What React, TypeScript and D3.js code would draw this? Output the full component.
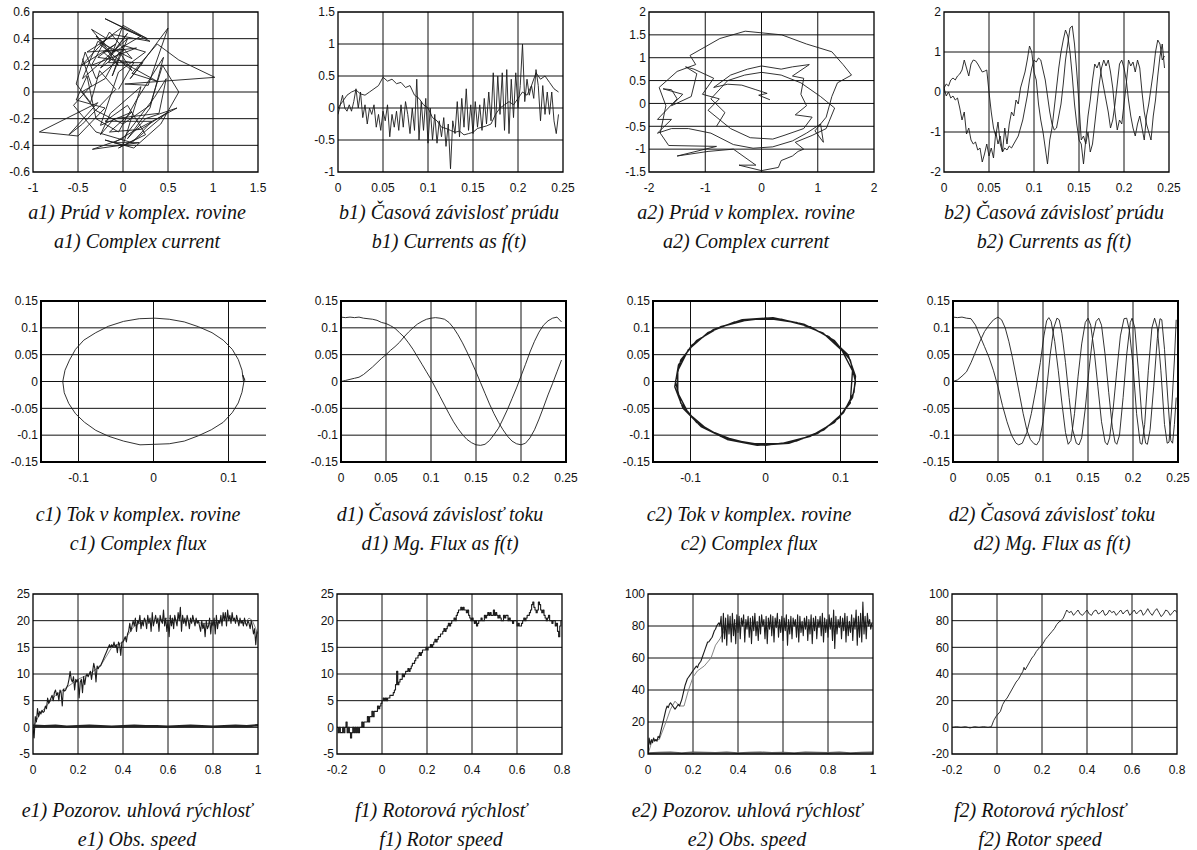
import React from "react";
import * as d3 from "d3";

type Pt = [number, number];

// ---------------- DATA ----------------
// a1) complex current trajectory (Re, Im)
const A1_CURRENT: Pt[] = [
  [-0.05,0.02],[0.12,0.22],[-0.28,0.26],[-0.08,0.36],[-0.46,0.2],[-0.18,0.4],[-0.35,0.47],[-0.12,0.28],
  [0.05,0.44],[-0.25,0.18],[0.02,0.32],[-0.4,0.3],[-0.1,0.43],[0.3,0.38],[-0.2,0.55],[0.27,0.4],
  [0.0,0.5],[-0.16,0.22],[0.22,0.22],[0.08,0.1],[0.5,0.48],[0.28,0.05],[0.02,0.06],[1.02,0.11],
  [0.62,0.24],[0.38,0.36],[0.1,0.14],[0.38,0.08],[-0.05,0.24],[-0.3,0.1],[-0.42,0.3],[-0.52,0.06],
  [-0.36,-0.08],[-0.26,0.16],[-0.08,0.02],[-0.45,-0.24],[-0.6,-0.32],[-0.28,-0.08],[-0.93,-0.3],[-0.5,-0.33],
  [-0.2,-0.12],[-0.52,-0.06],[-0.4,0.12],[-0.3,-0.2],[-0.05,-0.3],[0.15,-0.06],[0.45,0.26],[0.3,-0.12],
  [0.05,-0.35],[0.25,-0.2],[0.6,-0.12],[0.1,-0.3],[-0.1,-0.38],[0.18,-0.38],[-0.34,-0.43],[0.0,-0.35],
  [0.35,-0.04],[0.48,0.1],[0.4,-0.16],[-0.1,-0.2],[-0.25,-0.32],[-0.14,-0.16],[0.2,0.04],[0.0,-0.4],
  [-0.2,-0.36],[0.12,-0.42],[0.42,-0.24],[0.62,0.0],[0.44,0.2],[0.3,-0.1],[0.0,-0.24],[-0.3,-0.14],
  [-0.46,0.0],[-0.2,0.1],[-0.04,0.3],[0.1,0.16],[-0.26,0.36],[-0.02,0.48],[0.2,0.42],[-0.1,0.3],
  [-0.3,0.42],[-0.05,0.2],[-0.22,0.3],[0.15,0.33],[-0.35,0.2],[-0.15,0.45],[0.1,0.25],[-0.28,0.38],
  [-0.45,0.1],[-0.2,0.25],[0.05,0.4],[-0.12,0.12],[0.0,0.35],[0.25,0.3],[-0.05,0.15],[-0.25,-0.25],
  [0.1,-0.15],[-0.15,-0.3],[0.2,-0.28],[0.5,-0.15],[0.15,-0.35],[-0.05,-0.42],[0.25,-0.32],[0.05,-0.1],
  [-0.2,-0.22],[0.32,-0.22],[0.1,-0.38],[-0.3,-0.3],[-0.55,-0.1],[-0.35,0.05],[-0.45,0.25]
];

// b1) currents vs time
const B1_NOISY_STEP = 0.0025;
const B1_NOISY = [
  -0.1,0.05,0.2,0.0,-0.05,0.05,-0.05,0.1,0.3,0.0,
  0.25,-0.15,0.05,-0.25,0.0,-0.1,0.05,-0.3,-0.1,-0.35,
  -0.05,-0.2,0.05,-0.45,-0.1,-0.3,-0.05,-0.35,0.05,-0.3,
  0.1,-0.1,-0.4,0.0,-0.35,0.45,-0.5,0.1,-0.35,0.15,
  -0.55,0.0,-0.5,-0.1,-0.55,-0.2,-0.45,-0.15,-0.6,-0.25,
  -0.95,-0.2,-0.4,0.1,-0.45,0.15,-0.3,0.3,-0.35,0.05,
  -0.4,0.1,-0.3,0.05,-0.35,0.15,-0.25,0.25,-0.2,0.55,
  -0.3,0.5,-0.1,0.55,-0.35,0.6,-0.4,0.45,-0.15,0.55,
  0.0,0.35,1.0,0.1,0.45,0.2,0.35,0.15,0.6,0.35,
  -0.2,0.35,-0.1,0.25,-0.1,0.25,-0.2,-0.4,-0.1
];
const B1_SMOOTH_STEP = 0.005;
const B1_SMOOTH = [
  0.0,0.1,0.2,0.25,0.28,0.22,0.2,0.25,0.3,0.35,
  0.48,0.42,0.45,0.38,0.4,0.32,0.35,0.2,0.15,0.05,
  0.0,-0.15,-0.2,-0.3,-0.32,-0.35,-0.38,-0.36,-0.42,-0.4,
  -0.38,-0.32,-0.3,-0.28,-0.25,-0.1,0.0,0.05,0.1,0.05,
  0.15,0.25,0.2,0.35,0.55,0.45,0.5,0.4,0.3,0.25
];

// a2) complex current trajectory
const A2_CURRENT: Pt[] = [
  [0.15,0.08],[-0.05,0.18],[0.1,0.22],[-0.1,0.3],[-0.35,0.4],[-0.6,0.42],[-0.85,0.35],[-0.55,0.62],
  [-0.25,0.75],[0.0,0.82],[0.35,0.75],[0.55,0.8],[0.85,0.85],[0.55,0.6],[0.75,0.55],[0.7,0.2],
  [0.8,-0.05],[0.6,-0.25],[0.9,-0.3],[0.75,-0.55],[0.4,-0.7],[0.2,-0.78],[-0.2,-0.75],[-0.55,-0.55],
  [-0.75,-0.35],[-0.95,-0.15],[-0.75,0.1],[-1.05,0.2],[-0.85,0.55],[-1.2,0.75],[-1.35,0.8],[-1.15,0.65],
  [-1.25,0.15],[-1.6,-0.05],[-1.4,0.2],[-1.75,0.32],[-1.6,0.3],[-1.5,0.1],[-1.85,-0.35],[-1.6,-0.35],
  [-1.85,-0.65],[-1.6,-0.55],[-1.3,-0.55],[-0.9,-0.65],[-0.5,-0.9],[-0.15,-0.98],[0.2,-0.95],[0.55,-0.82],
  [0.8,-0.65],[1.05,-0.45],[1.1,-0.85],[0.95,-0.6],[1.15,-0.3],[1.25,0.15],[1.35,0.45],[1.6,0.62],
  [1.45,0.85],[1.25,1.13],[0.8,1.3],[0.36,1.5],[-0.29,1.58],[-0.74,1.42],[-1.27,1.05],[-1.17,0.85],
  [-1.5,0.7],[-1.82,0.35],[-1.7,-0.05],[-1.8,-0.65],[-1.65,-0.92],[-0.8,-0.94],[-1.5,-1.15],[-0.95,-1.05],
  [-0.5,-1.0],[-0.1,-1.35],[-0.4,-1.35],[0.0,-1.47],[0.3,-1.4],[0.35,-1.25],[0.55,-1.15],[0.65,-1.05],
  [0.75,-1.0],[0.6,-0.85],[0.9,-0.7],[1.15,-0.55],[1.2,-0.4],[1.3,-0.1],[1.15,0.05],[1.05,0.15],
  [0.7,0.45],[0.35,0.62],[0.0,0.68],[-0.3,0.62],[-0.6,0.5],[-0.9,0.1],[-0.65,-0.2],[-0.8,-0.5]
];

// b2) currents vs time
const B2_STEP = 0.0025;
const B2_PHASE_A = [
  0.1,0.2,0.15,0.3,0.35,0.3,0.4,0.45,0.55,0.8,
  0.6,0.4,0.7,0.8,0.78,0.7,0.6,0.5,0.52,0.55,
  0.0,-0.5,-0.9,-1.1,-0.75,-1.3,-1.5,-1.4,-1.45,-1.35,
  -1.4,-1.3,-1.2,-1.1,-0.9,-0.7,-0.4,-0.1,0.3,0.6,
  0.8,0.75,0.85,0.8,0.55,0.3,-0.1,-0.5,-0.8,-0.95,
  -0.9,-0.6,-0.3,0.2,0.8,1.2,1.6,1.65,1.2,0.5,
  -0.3,-1.2,-1.1,-1.3,-1.0,-1.5,-1.3,-0.8,-0.3,0.2,
  0.6,0.8,0.65,0.8,0.5,0.1,-0.5,-0.95,-0.7,-0.8,
  -0.3,0.2,0.8,0.65,0.75,0.5,0.8,0.6,0.0,-0.5,
  -0.8,-1.0,-1.2,-0.6,-0.2,0.4,0.9,1.2,0.6
];
const B2_PHASE_B = [
  0.1,-0.1,0.0,-0.15,-0.1,-0.2,-0.15,-0.4,-0.7,-0.5,
  -1.05,-0.9,-1.2,-1.3,-1.25,-1.45,-1.4,-1.75,-1.55,-1.3,
  -1.6,-1.4,-1.65,-1.0,-1.3,-1.1,-1.5,-0.9,-1.3,-0.8,
  -0.5,-0.6,-0.2,-0.3,0.1,0.3,0.5,0.8,1.15,1.0,
  0.5,0.3,-0.3,-0.7,-1.0,-1.4,-1.8,-1.2,-0.9,-0.4,
  0.1,0.6,1.0,1.3,1.55,1.4,1.0,0.4,-0.3,-0.8,
  -1.2,-1.3,-1.8,-1.2,-0.6,-0.2,0.3,0.7,0.6,0.75,
  0.4,0.1,-0.2,-0.5,-0.9,-0.7,-0.3,0.2,0.7,0.8,
  0.6,0.3,-0.2,-0.6,-0.9,-1.1,-0.8,-0.6,-0.9,-1.2,
  -0.6,-0.3,0.1,0.5,1.0,1.3,1.2,0.8,0.9
];

// c1) complex flux
const C1_FLUX: Pt[] = [
  [0.120,0.000],[0.118,0.021],[0.113,0.041],[0.105,0.060],[0.093,0.077],[0.078,0.091],[0.060,0.102],
  [0.041,0.111],[0.021,0.116],[0.002,0.118],[-0.019,0.117],[-0.040,0.112],[-0.060,0.103],[-0.077,0.091],
  [-0.093,0.077],[-0.104,0.060],[-0.112,0.040],[-0.118,0.021],[-0.121,0.000],[-0.119,-0.021],[-0.113,-0.041],
  [-0.104,-0.060],[-0.092,-0.076],[-0.077,-0.091],[-0.060,-0.102],[-0.040,-0.111],[-0.018,-0.118],[0.002,-0.117],
  [0.021,-0.116],[0.041,-0.111],[0.060,-0.101],[0.077,-0.090],[0.093,-0.076],[0.105,-0.058],[0.113,-0.040],
  [0.118,-0.020],[0.121,0.003],[0.119,0.012],[0.122,0.002]
];

// d1) flux vs time
const D1_STEP = 0.005;
const D1_FLUX_A = [
  0.12,0.119,0.12,0.119,0.12,0.118,0.117,0.116,0.114,0.11,
  0.108,0.104,0.099,0.091,0.083,0.072,0.06,0.046,0.032,0.018,
  0.004,-0.012,-0.028,-0.044,-0.06,-0.075,-0.088,-0.099,-0.108,-0.114,
  -0.118,-0.119,-0.117,-0.11,-0.099,-0.087,-0.07,-0.052,-0.032,-0.012,
  0.01,0.032,0.055,0.075,0.092,0.105,0.113,0.118,0.12,0.111
];
const D1_FLUX_B = [
  0.0,0.002,0.004,0.006,0.008,0.013,0.02,0.027,0.035,0.043,
  0.05,0.058,0.065,0.073,0.083,0.092,0.1,0.107,0.112,0.116,
  0.118,0.119,0.118,0.116,0.11,0.1,0.087,0.072,0.055,0.037,
  0.018,-0.002,-0.022,-0.042,-0.06,-0.076,-0.09,-0.102,-0.111,-0.116,
  -0.118,-0.115,-0.105,-0.09,-0.07,-0.048,-0.025,-0.004,0.018,0.04
];

// c2) complex flux (three turns)
const C2_FLUX: Pt[] = [
  [0.12,0],[0.113,0.040],[0.092,0.076],[0.060,0.102],[0.021,0.116],[-0.021,0.116],[-0.060,0.102],
  [-0.092,0.076],[-0.113,0.040],[-0.12,0],[-0.113,-0.040],[-0.092,-0.076],[-0.060,-0.102],[-0.021,-0.116],
  [0.021,-0.116],[0.060,-0.102],[0.092,-0.076],[0.113,-0.040],
  [0.116,0.020],[0.102,0.058],[0.077,0.09],[0.041,0.11],[0.0,0.118],[-0.041,0.111],[-0.077,0.091],
  [-0.103,0.059],[-0.117,0.020],[-0.117,-0.021],[-0.103,-0.059],[-0.077,-0.090],[-0.041,-0.110],[0.0,-0.119],
  [0.041,-0.111],[0.078,-0.090],[0.104,-0.058],[0.118,-0.02],
  [0.12,0.01],[0.11,0.05],[0.085,0.083],[0.051,0.107],[0.01,0.119],[-0.031,0.115],[-0.069,0.097],
  [-0.098,0.068],[-0.116,0.031],[-0.121,-0.01],[-0.11,-0.05],[-0.086,-0.084],[-0.051,-0.108],[-0.011,-0.119],
  [0.031,-0.115],[0.069,-0.097],[0.098,-0.068],[0.116,-0.03],[0.12,0.0]
];

// d2) flux vs time (accelerating)
const D2_FLUX_A: Pt[] = [
  [0,0.12],[0.005,0.119],[0.01,0.12],[0.015,0.118],[0.02,0.117],[0.025,0.105],[0.03,0.085],[0.035,0.065],
  [0.04,0.045],[0.045,0.02],[0.05,-0.01],[0.055,-0.045],[0.06,-0.075],[0.065,-0.1],[0.07,-0.115],[0.073,-0.118],
  [0.077,-0.115],[0.082,-0.095],[0.087,-0.06],[0.092,-0.015],[0.097,0.035],[0.101,0.085],[0.104,0.113],[0.1065,0.119],
  [0.109,0.112],[0.113,0.075],[0.117,0.02],[0.121,-0.04],[0.125,-0.095],[0.128,-0.117],[0.131,-0.11],[0.135,-0.06],
  [0.139,0.01],[0.143,0.07],[0.147,0.11],[0.15,0.118],[0.153,0.105],[0.157,0.055],[0.161,-0.01],[0.165,-0.075],
  [0.169,-0.113],[0.1715,-0.118],[0.174,-0.105],[0.178,-0.05],[0.182,0.02],[0.186,0.085],[0.19,0.117],[0.193,0.118],
  [0.196,0.095],[0.2,0.03],[0.204,-0.06],[0.208,-0.115],[0.21,-0.117],[0.213,-0.08],[0.217,0.02],[0.221,0.1],
  [0.224,0.118],[0.227,0.1],[0.231,0.02],[0.235,-0.08],[0.238,-0.115],[0.24,-0.113],[0.243,-0.05],[0.246,0.04],
  [0.248,0.115]
];
const D2_FLUX_B: Pt[] = [
  [0,0.0],[0.005,0.003],[0.01,0.01],[0.015,0.018],[0.02,0.035],[0.025,0.055],[0.03,0.075],[0.035,0.093],
  [0.04,0.105],[0.045,0.115],[0.05,0.12],[0.054,0.115],[0.058,0.1],[0.062,0.075],[0.066,0.045],[0.07,0.01],
  [0.074,-0.025],[0.078,-0.06],[0.082,-0.09],[0.086,-0.108],[0.09,-0.116],[0.093,-0.118],[0.096,-0.11],[0.1,-0.075],
  [0.104,-0.015],[0.108,0.05],[0.112,0.1],[0.1155,0.118],[0.118,0.115],[0.121,0.09],[0.125,0.035],[0.129,-0.03],
  [0.133,-0.09],[0.137,-0.115],[0.14,-0.118],[0.143,-0.105],[0.147,-0.05],[0.151,0.02],[0.155,0.08],[0.159,0.112],
  [0.162,0.118],[0.165,0.105],[0.169,0.05],[0.173,-0.02],[0.177,-0.085],[0.18,-0.113],[0.182,-0.117],[0.185,-0.1],
  [0.189,-0.03],[0.193,0.05],[0.197,0.11],[0.199,0.118],[0.202,0.1],[0.206,0.02],[0.21,-0.07],[0.214,-0.115],
  [0.216,-0.117],[0.219,-0.09],[0.223,-0.01],[0.227,0.08],[0.23,0.117],[0.232,0.115],[0.235,0.06],[0.239,-0.04],
  [0.242,-0.11],[0.244,-0.115],[0.246,-0.08],[0.248,-0.03]
];

// e1) observed speed
const E1_STEP = 0.005;
const E1_OBSERVED = [
  0,-2,2,1,3.5,2,3,2.5,3.2,2.8,
  3,4,3.5,5.5,4.5,5,5.5,6,5,6.5,
  7,6,6.5,5,7,6.5,4,7.2,6.8,7,
  7.5,8,9,10.5,9,8.5,9.5,7,9,8.5,
  9,5.5,8.5,9,6.5,9.5,8,9.5,10,9.5,
  10,10.5,9,10.5,12,11,8.5,11.5,11,11.5,
  11.5,12,12.5,13,13.5,14,14.5,15,15.5,15,
  15.5,15,16,15,15.5,14,16,15.5,13.5,16,
  16,16.5,17,16,17.5,18,19.5,18,19,20,
  19,20.5,18,20,19.5,21,18.5,20,19,20.5,
  20,18.5,21,19.5,20.5,18,21.5,19,20,21,
  19.5,20.5,18,21,20,19.5,22,19,20.5,18,
  20,17,21,19,20.5,18.5,21,20,19,21.5,
  20,22.5,18,21,19.5,20.5,19,21,20,18.5,
  20.5,19.5,21,20,19,20.5,19.5,20,19,18,
  20,18.5,19.5,17,20,18.5,19,20.5,17.5,20,
  19,20.5,17.5,21,18.5,20,19.5,21,19,21.5,
  20,21.5,19,22,20,21,19.5,21.5,20,20.5,
  19.5,21,20,19,20.5,19.5,20,19,20.5,19.5,
  19,20,19.5,18.5,20,19,17.5,18.5,15.5,18
];
const E1_ESTIMATE: Pt[] = [
  [0,0],[0.03,2.5],[0.06,4],[0.1,6],[0.15,7.5],[0.2,9],[0.25,10],[0.3,11.5],[0.35,15],[0.4,16],
  [0.45,19],[0.5,20],[0.55,20],[0.6,20.5],[0.65,20],[0.7,20],[0.75,19.5],[0.8,19.5],[0.85,20],[0.9,20],
  [0.94,19.5],[0.96,20.5],[0.975,20],[0.99,18.5],[1.0,17.5]
];
const ZERO_STEP = 0.05;
const E1_ZERO = [0.3,0.2,0.3,0.1,0.2,0.3,0.2,0.1,0.2,0.3,0.2,0.2,0.1,0.2,0.3,0.2,0.1,0.2,0.3,0.2,0.4];

// f1) rotor speed (quantized)
const F1_START = -0.2;
const F1_STEP = 0.005;
const F1_ROTOR = [
  0,-1,0,-1,-1,0,-1,0,1,-1,0,-1,-2,-1,0,-1,0,-1,0,-1,
  0,0,1,0,1,1,1,2,1,2,2,3,2,3,3,3,4,3.5,4,4.5,
  5,5.5,5,5.5,5,5.5,5.5,6,6,6,6.5,7,8,10.5,8,8.5,9,9,10,9.5,
  10,10.5,10.5,11,10.5,11,11.5,12,12,12.5,13,13,13.5,14,13.5,14,14.5,14.5,14.5,15,
  14.5,15,15,15.5,15,15.5,16,16.5,16,16.5,17,17,17.5,17.5,18,18.5,18,18.5,19,19.5,
  19,19.5,20,20,20.5,20,21,21.5,22,22,22.5,22,22.5,22,22,21.5,22,21,20.5,20,
  20.5,20,19.5,20,19,19.5,20,20,20.5,20,20,21,20.5,21,21.5,21,21.5,21,21,22,
  21,21.5,21,20.5,21,20.5,20,20,21,20.5,21,21,20,20.5,20,20,19.5,20,20,20,
  19,19.5,19,19,19.5,20,20.5,20,20.5,21,21,21.5,22,23,23.5,22.5,22,21.5,22,23.5,
  23,22,21.5,22,21,20.5,20,20.5,21,20,20,19.5,20,20,19,19.5,18,17,19,20
];

// e2) observed speed
const E2_STEP = 0.005;
const E2_OBSERVED = [
  0,10,6,9,7,10,8,9,8,11,
  10,13,16,19,22,25,28,30,29,31,
  32,31,30,29,28,29,30,31,30,32,
  34,37,40,43,45,47,48,49,50,51,
  52,53,54,55,54,56,57,58,60,62,
  64,66,68,70,70,71,72,73,75,77,
  78,80,81,82,80,86,70,88,72,85,
  68,87,75,86,70,88,74,84,69,87,
  76,86,72,85,80,87,70,84,78,86,
  73,85,69,86,77,88,74,83,71,86,
  75,87,80,84,72,86,69,85,78,87,
  74,86,70,85,79,88,73,84,76,86,
  71,85,77,87,68,84,75,86,72,85,
  80,84,73,87,70,86,76,83,74,85,
  78,86,71,84,75,87,69,85,77,86,
  72,84,79,86,74,88,70,85,76,84,
  73,87,78,85,71,90,66,86,75,84,
  79,86,72,85,77,88,70,86,74,83,
  76,87,71,85,78,90,68,86,73,88,
  70,95,75,86,72,88,80,84,78,82
];
const E2_ESTIMATE: Pt[] = [
  [0,0],[0.02,9],[0.05,9],[0.08,20],[0.1,28],[0.12,33],[0.14,30],[0.16,30],[0.18,40],[0.2,48],
  [0.22,52],[0.25,55],[0.28,60],[0.3,68],[0.32,72],[0.35,80],[0.4,82],[0.5,82],[0.6,82],[0.7,82],
  [0.8,82],[0.9,82],[1.0,82]
];
const E2_ZERO = [0.5,0.8,1,0.6,1,0.8,0.7,1,0.6,0.8,1,0.7,0.9,0.6,1,0.8,0.7,1,0.6,0.9,1];

// f2) rotor speed
const F2_ROTOR: Pt[] = [
  [-0.2,0],[-0.18,0.5],[-0.16,0],[-0.14,0.5],[-0.12,-0.5],[-0.1,0.5],[-0.08,0],[-0.06,0.5],[-0.04,0],
  [-0.025,0.5],[-0.015,5],[-0.005,8],[0.005,10],[0.015,12],[0.025,17],[0.035,20],[0.045,22],[0.055,25],
  [0.065,28],[0.075,31],[0.085,34],[0.095,36],[0.105,39],[0.115,42],[0.12,45],[0.125,43],[0.135,46],
  [0.145,49],[0.155,52],[0.165,54],[0.175,57],[0.185,59],[0.195,61],[0.205,63],[0.215,66],[0.225,68],
  [0.235,70],[0.245,72],[0.255,74],[0.265,77],[0.275,79],[0.285,80],[0.295,82],[0.305,86],[0.31,88],
  [0.32,86],[0.33,87],[0.34,84],[0.35,86],[0.36,88],[0.37,85],[0.38,84],[0.39,86],[0.4,88],[0.41,85],
  [0.42,84],[0.43,87],[0.44,88],[0.45,85],[0.46,86],[0.47,88],[0.48,84],[0.49,85],[0.5,88],[0.51,86],
  [0.52,87],[0.53,84],[0.54,86],[0.55,88],[0.56,85],[0.57,87],[0.58,88],[0.59,84],[0.6,86],[0.61,88],
  [0.62,85],[0.63,87],[0.64,88],[0.65,84],[0.66,86],[0.67,89],[0.68,86],[0.69,84],[0.7,87],[0.71,89],
  [0.72,86],[0.73,83],[0.74,85],[0.75,88],[0.76,87],[0.77,84],[0.78,86],[0.79,88],[0.8,86]
];

// tick values
const A1_TICKS_X = [-1, -0.5, 0, 0.5, 1, 1.5];
const A1_TICKS_Y = [-0.6, -0.4, -0.2, 0, 0.2, 0.4, 0.6];
const T025_TICKS = [0, 0.05, 0.1, 0.15, 0.2, 0.25];
const B1_TICKS_Y = [-1, -0.5, 0, 0.5, 1, 1.5];
const A2_TICKS_X = [-2, -1, 0, 1, 2];
const A2_TICKS_Y = [-1.5, -1, -0.5, 0, 0.5, 1, 1.5, 2];
const B2_TICKS_Y = [-2, -1, 0, 1, 2];
const FLUX_TICKS_X = [-0.1, 0, 0.1];
const FLUX_TICKS_Y = [-0.15, -0.1, -0.05, 0, 0.05, 0.1, 0.15];
const E_TICKS_X = [0, 0.2, 0.4, 0.6, 0.8, 1];
const F_TICKS_X = [-0.2, 0, 0.2, 0.4, 0.6, 0.8];
const SPEED1_TICKS_Y = [-5, 0, 5, 10, 15, 20, 25];
const E2_TICKS_Y = [0, 20, 40, 60, 80, 100];
const F2_TICKS_Y = [-20, 0, 20, 40, 60, 80, 100];

// captions
const CAPTIONS: [string, string][] = [
  ["a1) Prúd v komplex. rovine", "a1) Complex current"],
  ["b1) Časová závislosť prúdu", "b1) Currents as f(t)"],
  ["a2) Prúd v komplex. rovine", "a2) Complex current"],
  ["b2) Časová závislosť prúdu", "b2) Currents as f(t)"],
  ["c1) Tok v komplex. rovine", "c1) Complex flux"],
  ["d1) Časová závislosť toku", "d1) Mg. Flux as f(t)"],
  ["c2) Tok v komplex. rovine", "c2) Complex flux"],
  ["d2) Časová závislosť toku", "d2) Mg. Flux as f(t)"],
  ["e1) Pozorov. uhlová rýchlosť", "e1) Obs. speed"],
  ["f1) Rotorová rýchlosť", "f1) Rotor speed"],
  ["e2) Pozorov. uhlová rýchlosť", "e2) Obs. speed"],
  ["f2) Rotorová rýchlosť", "f2) Rotor speed"],
];

// ---------------- HELPERS ----------------
const timed = (vals: number[], t0: number, step: number): Pt[] => vals.map((v, i) => [t0 + i * step, v]);

type Series = { pts: Pt[]; w: number; c: string; step?: boolean };
type PanelCfg = {
  left: number; top: number; w: number; h: number;
  xd: [number, number]; yd: [number, number];
  xt: number[]; yt: number[];
  series: Series[];
  noRight?: boolean; border: number;
  cap: [string, string]; capX: number; capY: number;
};

const INK = "#1c1c1c";
const SANS = "'Liberation Sans', Arial, Helvetica, sans-serif";
const SERIF = "'Liberation Serif', 'Times New Roman', serif";
const CAP_GAP = 29;

function Panel({ cfg, id }: { cfg: PanelCfg; id: string }) {
  const x = d3.scaleLinear().domain(cfg.xd).range([cfg.left, cfg.left + cfg.w]);
  const y = d3.scaleLinear().domain(cfg.yd).range([cfg.top + cfg.h, cfg.top]);
  const r = cfg.left + cfg.w, b = cfg.top + cfg.h;
  const eps = 1e-9;
  const innerX = cfg.xt.filter(v => v > cfg.xd[0] + eps && v < cfg.xd[1] - eps);
  const innerY = cfg.yt.filter(v => v > cfg.yd[0] + eps && v < cfg.yd[1] - eps);
  return (
    <g>
      <defs>
        <clipPath id={id}>
          <rect x={cfg.left} y={cfg.top} width={cfg.w} height={cfg.h} />
        </clipPath>
      </defs>
      {innerX.map((v, i) => (
        <line key={"gx" + i} x1={x(v)} x2={x(v)} y1={cfg.top} y2={b} stroke="#111" strokeWidth={1} />
      ))}
      {innerY.map((v, i) => (
        <line key={"gy" + i} x1={cfg.left} x2={r} y1={y(v)} y2={y(v)} stroke="#111" strokeWidth={1} />
      ))}
      <g clipPath={`url(#${id})`}>
        {cfg.series.map((s, i) => {
          const gen = d3.line<Pt>().x(d => x(d[0])).y(d => y(d[1]));
          if (s.step) gen.curve(d3.curveStepAfter);
          return <path key={i} d={gen(s.pts) || ""} fill="none" stroke={s.c} strokeWidth={s.w} strokeLinejoin="round" />;
        })}
      </g>
      <path
        d={cfg.noRight
          ? `M${r},${cfg.top}H${cfg.left}V${b}H${r}`
          : `M${cfg.left},${cfg.top}H${r}V${b}H${cfg.left}Z`}
        fill="none" stroke="#000" strokeWidth={cfg.border}
      />
      {cfg.xt.map((v, i) => (
        <text key={"tx" + i} x={x(v)} y={b + 20} textAnchor="middle" fontFamily={SANS} fontSize={12} fill="#111">{String(v)}</text>
      ))}
      {cfg.yt.map((v, i) => (
        <text key={"ty" + i} x={cfg.left - 3} y={y(v) + 4.3} textAnchor="end" fontFamily={SANS} fontSize={12} fill="#111">{String(v)}</text>
      ))}
      <text x={cfg.capX} y={cfg.capY} textAnchor="middle" fontFamily={SERIF} fontStyle="italic" fontSize={20} fill="#111">{cfg.cap[0]}</text>
      <text x={cfg.capX} y={cfg.capY + CAP_GAP} textAnchor="middle" fontFamily={SERIF} fontStyle="italic" fontSize={20} fill="#111">{cfg.cap[1]}</text>
    </g>
  );
}

export default function App() {
  const W = 1197, H = 850;
  const ROW1 = 12, ROW2 = 301, ROW3 = 594;
  const CAP1 = 219, CAP2 = 521, CAP3 = 817;

  const panels: PanelCfg[] = [
    { left: 33, top: ROW1, w: 225, h: 160, xd: [-1, 1.5], yd: [-0.6, 0.6], xt: A1_TICKS_X, yt: A1_TICKS_Y,
      series: [{ pts: A1_CURRENT, w: 0.9, c: INK }], border: 1.3, cap: CAPTIONS[0], capX: 137, capY: CAP1 },
    { left: 338, top: ROW1, w: 225, h: 160, xd: [0, 0.25], yd: [-1, 1.5], xt: T025_TICKS, yt: B1_TICKS_Y,
      series: [{ pts: timed(B1_SMOOTH, 0, B1_SMOOTH_STEP), w: 0.9, c: INK }, { pts: timed(B1_NOISY, 0, B1_NOISY_STEP), w: 0.9, c: INK }],
      border: 1.3, cap: CAPTIONS[1], capX: 449, capY: CAP1 },
    { left: 649, top: ROW1, w: 225, h: 160, xd: [-2, 2], yd: [-1.5, 2], xt: A2_TICKS_X, yt: A2_TICKS_Y,
      series: [{ pts: A2_CURRENT, w: 0.9, c: INK }], border: 1.3, cap: CAPTIONS[2], capX: 746, capY: CAP1 },
    { left: 944, top: ROW1, w: 225, h: 160, xd: [0, 0.25], yd: [-2, 2], xt: T025_TICKS, yt: B2_TICKS_Y,
      series: [{ pts: timed(B2_PHASE_A, 0, B2_STEP), w: 0.9, c: INK }, { pts: timed(B2_PHASE_B, 0, B2_STEP), w: 0.9, c: INK }],
      border: 1.3, cap: CAPTIONS[3], capX: 1054, capY: CAP1 },

    { left: 41, top: ROW2, w: 225, h: 161, xd: [-0.15, 0.15], yd: [-0.15, 0.15], xt: FLUX_TICKS_X, yt: FLUX_TICKS_Y,
      series: [{ pts: C1_FLUX, w: 0.9, c: INK }], noRight: true, border: 2, cap: CAPTIONS[4], capX: 138, capY: CAP2 },
    { left: 341, top: ROW2, w: 225, h: 161, xd: [0, 0.25], yd: [-0.15, 0.15], xt: T025_TICKS, yt: FLUX_TICKS_Y,
      series: [{ pts: timed(D1_FLUX_A, 0, D1_STEP), w: 0.9, c: INK }, { pts: timed(D1_FLUX_B, 0, D1_STEP), w: 0.9, c: INK }],
      border: 2, cap: CAPTIONS[5], capX: 440, capY: CAP2 },
    { left: 653, top: ROW2, w: 225, h: 161, xd: [-0.15, 0.15], yd: [-0.15, 0.15], xt: FLUX_TICKS_X, yt: FLUX_TICKS_Y,
      series: [{ pts: C2_FLUX, w: 1.4, c: INK }], noRight: true, border: 2, cap: CAPTIONS[6], capX: 749, capY: CAP2 },
    { left: 953, top: ROW2, w: 225, h: 161, xd: [0, 0.25], yd: [-0.15, 0.15], xt: T025_TICKS, yt: FLUX_TICKS_Y,
      series: [{ pts: D2_FLUX_A, w: 0.9, c: INK }, { pts: D2_FLUX_B, w: 0.9, c: INK }],
      border: 2, cap: CAPTIONS[7], capX: 1052, capY: CAP2 },

    { left: 33, top: ROW3, w: 225, h: 160, xd: [0, 1], yd: [-5, 25], xt: E_TICKS_X, yt: SPEED1_TICKS_Y,
      series: [
        { pts: timed(E1_ZERO, 0, ZERO_STEP), w: 2.4, c: "#222" },
        { pts: E1_ESTIMATE, w: 0.9, c: "#777" },
        { pts: timed(E1_OBSERVED, 0, E1_STEP), w: 1.1, c: INK },
      ], border: 1.3, cap: CAPTIONS[8], capX: 137, capY: CAP3 },
    { left: 337, top: ROW3, w: 225, h: 160, xd: [-0.2, 0.8], yd: [-5, 25], xt: F_TICKS_X, yt: SPEED1_TICKS_Y,
      series: [{ pts: timed(F1_ROTOR, F1_START, F1_STEP), w: 1.1, c: INK, step: true }],
      border: 1.3, cap: CAPTIONS[9], capX: 441, capY: CAP3 },
    { left: 648, top: ROW3, w: 225, h: 160, xd: [0, 1], yd: [0, 100], xt: E_TICKS_X, yt: E2_TICKS_Y,
      series: [
        { pts: timed(E2_ZERO, 0, ZERO_STEP), w: 1.8, c: "#555" },
        { pts: E2_ESTIMATE, w: 0.9, c: "#777" },
        { pts: timed(E2_OBSERVED, 0, E2_STEP), w: 1.1, c: INK },
      ], border: 1.3, cap: CAPTIONS[10], capX: 747, capY: CAP3 },
    { left: 952, top: ROW3, w: 225, h: 160, xd: [-0.2, 0.8], yd: [-20, 100], xt: F_TICKS_X, yt: F2_TICKS_Y,
      series: [{ pts: F2_ROTOR, w: 0.9, c: INK }], border: 1.3, cap: CAPTIONS[11], capX: 1040, capY: CAP3 },
  ];

  return (
    <svg width={W} height={H} viewBox={`0 0 ${W} ${H}`} style={{ position: "absolute", left: 0, top: 0, display: "block" }}>
      <rect x={0} y={0} width={W} height={H} fill="#fff" />
      {panels.map((p, i) => <Panel key={i} cfg={p} id={"clip" + i} />)}
    </svg>
  );
}
